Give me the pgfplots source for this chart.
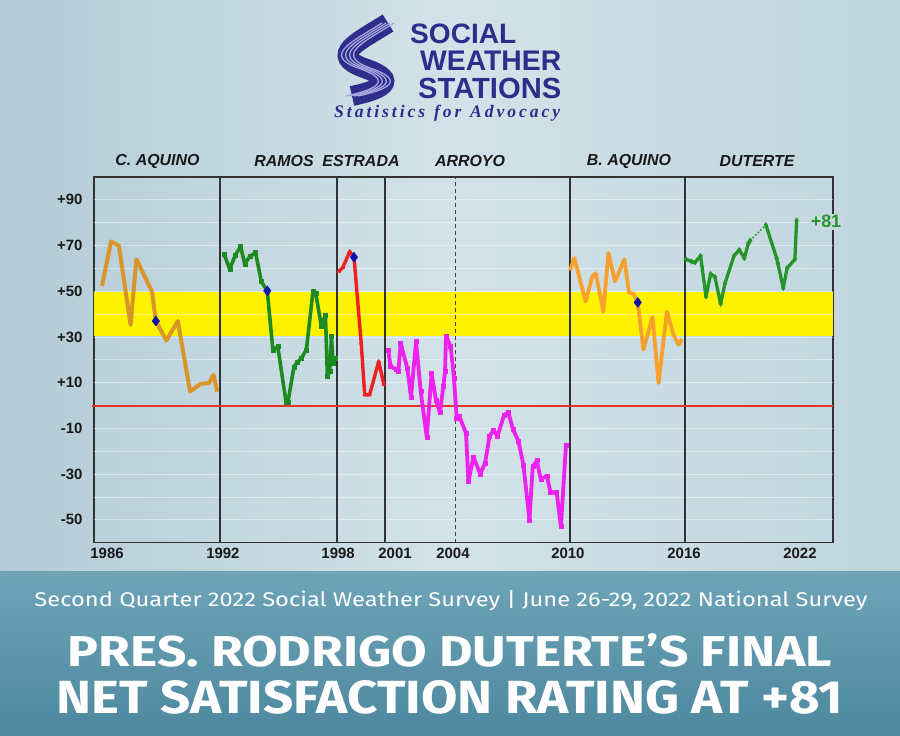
\documentclass[border=0pt]{standalone}
\usepackage{pgfplots}
\pgfplotsset{compat=1.18}
\usepackage{fontspec}
\setmainfont{Liberation Sans}
\newfontfamily\serifb{Liberation Serif}
\newfontfamily\firasans{Fira Sans}

\definecolor{bgA}{HTML}{B3CBD6}
\definecolor{bgB}{HTML}{D2E2E8}
\definecolor{bgC}{HTML}{C0D5DE}
\definecolor{banA}{HTML}{6FA4B7}
\definecolor{banB}{HTML}{4C889F}
\definecolor{navy}{HTML}{2E2D8C}
\definecolor{lav}{HTML}{A4A4DE}
\definecolor{caq}{HTML}{D8962A}
\definecolor{baq}{HTML}{F6A02E}
\definecolor{grn}{HTML}{1E8A22}
\definecolor{dut}{HTML}{25952B}
\definecolor{est}{HTML}{EE2222}
\definecolor{arr}{HTML}{EE22EE}
\definecolor{mid}{HTML}{1212A8}
\definecolor{zline}{HTML}{E8322E}

\begin{document}
\begin{tikzpicture}
\useasboundingbox (0,0) rectangle (900bp,736bp);
% background
\shade[left color=bgA, right color=bgC, middle color=bgB] (0,164bp) rectangle (900bp,736bp);
\shade[top color=banA, bottom color=banB] (0,0) rectangle (900bp,164bp);

% logo swoosh
\def\swoosh{(388bp,713bp) .. controls (358bp,694bp) and (328bp,681bp) .. (364bp,668bp) .. controls (402bp,655bp) and (380bp,646bp) .. (352bp,640bp)}
\draw[navy, line width=20bp] \swoosh;
\foreach \s in {-6,-2,2,6}{
  \draw[lav, line width=1.3bp, xshift=\s bp] \swoosh;
}
\node[anchor=base west, inner sep=0, text=navy] at (410bp,692.5bp) {\resizebox{106bp}{!}{\bfseries SOCIAL}};
\node[anchor=base west, inner sep=0, text=navy] at (420bp,665.5bp) {\resizebox{141bp}{!}{\bfseries WEATHER}};
\node[anchor=base west, inner sep=0, text=navy] at (418bp,637bp) {\resizebox{143bp}{!}{\bfseries STATIONS}};
\node[anchor=base west, inner sep=0, text=navy] at (334bp,618.5bp) {\resizebox{226bp}{!}{\serifb\bfseries\itshape S\,t\,a\,t\,i\,s\,t\,i\,c\,s \ f\,o\,r \ A\,d\,v\,o\,c\,a\,c\,y}};

% president names
\tikzset{pres/.style={font=\fontsize{16}{18}\selectfont\bfseries\itshape, text=black!90}}
\node[pres] at (157.5bp,575bp) {C. AQUINO};
\node[pres] at (284bp,575bp) {RAMOS};
\node[pres] at (361bp,575bp) {ESTRADA};
\node[pres] at (470bp,575bp) {ARROYO};
\node[pres] at (629bp,575bp) {B. AQUINO};
\node[pres] at (757bp,575bp) {DUTERTE};

\begin{axis}[
  at={(94bp,193.3bp)}, anchor=south west, scale only axis,
  width=739bp, height=365.7bp,
  xmin=1986.02, xmax=2024.02, ymin=-60, ymax=100,
  axis line style={black!80, line width=1.2bp},
  major tick length=0pt,
  xtick={1986.69,1992.65,1998.57,2001.5,2004.48,2010.39,2016.36,2022.32},
  xticklabels={1986,1992,1998,2001,2004,2010,2016,2022},
  ytick={-50,-30,-10,10,30,50,70,90},
  yticklabels={-50,-30,-10,+10,+30,+50,+70,+90},
  ticklabel style={font=\fontsize{15}{17}\selectfont\bfseries, text=black!90},
  yticklabel style={xshift=-8bp},
  xticklabel style={yshift=-2bp},
  clip=false,
  every axis plot/.append style={line join=round},
]
\fill[yellow] (1986.02,30.5) rectangle (2024.02,49.5);
\pgfplotsinvokeforeach{-50,-40,...,90}{
  \draw[white, opacity=0.45, line width=0.7bp] (1986.02,#1) -- (2024.02,#1);
}
\foreach \xv in {1992.5,1998.52,2000.98,2010.49,2016.41}{
  \edef\tmp{\noexpand\draw[black!80, line width=1.5bp] (\xv,-60) -- (\xv,100);}\tmp
}
\draw[black!75, line width=1.1bp, dash pattern=on 4bp off 3bp] (2004.63,-60) -- (2004.63,100);
\draw[zline, line width=2bp] (1985.9,0) -- (2024.02,0);

% C. Aquino
\addplot[caq, line width=4bp] coordinates {
(1986.43,52.4) (1986.9,71.8) (1987.3,69.9) (1987.9,35.3) (1988.2,64) (1989.0,49.9)
(1989.2,37) (1989.74,28.4) (1990.33,37) (1990.96,6.1) (1991.5,9.5) (1991.93,9.8)
(1992.16,13.4) (1992.36,6.1)};
% Ramos
\addplot[grn, line width=3.6bp, mark=square*, mark size=2bp, mark options={line width=0.4bp, line join=miter}] coordinates {
(1992.7,66.4) (1993.0,59.7) (1993.29,65.9) (1993.56,69.6) (1993.77,62) (1994.03,65.2)
(1994.33,66.9) (1994.62,54.3) (1994.93,50.2) (1995.22,24.1) (1995.47,25.8) (1995.9,1.3)
(1995.99,1.3) (1996.3,17) (1996.47,18.8) (1996.68,20.7) (1996.94,24.4) (1997.28,49.9)
(1997.42,49.2) (1997.71,34.9) (1997.92,39.7) (1998.02,13) (1998.14,14.9) (1998.23,30.2)
(1998.31,18.5) (1998.4,20.7)};
% Estrada
\addplot[est, line width=3.4bp, mark=triangle*, mark size=2.2bp, mark options={line width=0.4bp, line join=miter}] coordinates {
(1998.6,58.6) (1998.82,60.5) (1999.17,67.4) (1999.39,64.9) (1999.76,27.3) (1999.94,4.7)
(2000.19,4.7) (2000.66,19.3) (2000.93,9.1)};
% Arroyo
\addplot[arr, line width=3.8bp, mark=square*, mark size=2bp, mark options={line width=0.4bp, line join=miter}] coordinates {
(2001.15,24.1) (2001.27,17.1) (2001.55,15.9) (2001.67,14.9) (2001.79,27.3) (2002.13,16.4)
(2002.32,3.7) (2002.58,28) (2002.82,6.1) (2003.13,-13.8) (2003.38,14.2) (2003.6,2.5)
(2003.81,-3.1) (2003.98,8.3) (2004.07,14.9) (2004.12,30.5) (2004.36,25.8) (2004.53,12)
(2004.67,-5.5) (2004.81,-4.8) (2005.15,-12.1) (2005.27,-33.3) (2005.53,-22.6) (2005.88,-29.9)
(2006.13,-25.2) (2006.36,-13.3) (2006.56,-10.9) (2006.77,-13.3) (2007.11,-4.1) (2007.33,-3.1)
(2007.56,-10.3) (2007.85,-15.7) (2008.1,-25.9) (2008.41,-50) (2008.58,-26.7) (2008.79,-24.1)
(2008.99,-32.2) (2009.3,-30.8) (2009.5,-38.1) (2009.81,-38.1) (2010.03,-52.9) (2010.29,-17.2)};
% B. Aquino
\addplot[baq, line width=3.8bp] coordinates {
(2010.5,59.1) (2010.72,64.5) (2011.3,45.5) (2011.64,56.4) (2011.82,57.9) (2012.21,41.1)
(2012.47,66.7) (2012.81,54.3) (2013.29,64) (2013.53,49.4) (2013.76,48.9) (2013.98,45.1)
(2014.27,24.4) (2014.74,38.7) (2015.05,9.8) (2015.48,41.1) (2015.82,30.9) (2016.08,26.6)
(2016.25,29.1)};
% Duterte
\addplot[dut, line width=3.3bp, mark=diamond*, mark size=2.6bp, mark options={line width=0.4bp, line join=miter}] coordinates {
(2016.46,64) (2016.75,63) (2016.92,62.6) (2017.21,65.5) (2017.49,47.7) (2017.73,57.6)
(2017.95,56.2) (2018.24,44.5) (2018.47,53.6) (2018.93,65.5) (2019.2,68.1) (2019.46,64.5)
(2019.67,71) (2019.76,72.2)};
\addplot[dut, line width=1.6bp, dotted] coordinates {(2019.76,72.2) (2020.57,79)};
\addplot[dut, line width=3.3bp, mark=diamond*, mark size=2.6bp, mark options={line width=0.4bp, line join=miter}] coordinates {
(2020.57,79) (2021.12,64.5) (2021.18,62.3) (2021.46,51.4) (2021.66,60.1) (2022.06,64)
(2022.15,81)};
% mid-term markers
\addplot[only marks, mark=diamond*, mark size=5bp, mid, mark options={line width=0.4bp}] coordinates {
(1989.2,37) (1994.93,50.2) (1999.39,64.9) (2013.98,45.1)};

\node[text=dut, font=\fontsize{18}{20}\selectfont\bfseries, fill=bgC!60!bgB, inner sep=1.5bp] at (2023.66,80.4) {+81};
\end{axis}

% bottom banner text
\node[text=white] at (451bp,135bp) {\resizebox{833bp}{16bp}{\firasans Second Quarter 2022 Social Weather Survey | June 26-29, 2022 National Survey}};
\node[text=white] at (450bp,86bp) {\resizebox{764bp}{33bp}{\firasans\bfseries PRES. RODRIGO DUTERTE’S FINAL}};
\node[text=white] at (450bp,39bp) {\resizebox{786bp}{33bp}{\firasans\bfseries NET SATISFACTION RATING AT +81}};
\end{tikzpicture}
\end{document}
